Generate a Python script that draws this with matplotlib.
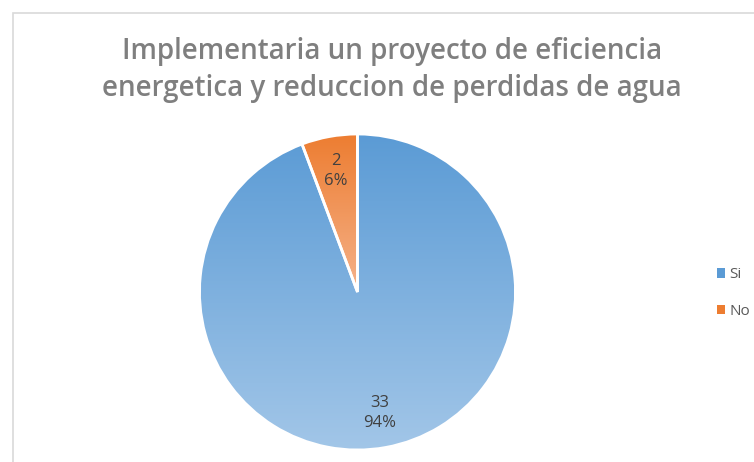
import numpy as np
import matplotlib.pyplot as plt
from matplotlib.patches import Patch, Rectangle
from matplotlib.colors import LinearSegmentedColormap

# data
categories = ['Si', 'No']
counts = [33, 2]
top_colors = ['#5B9BD5', '#ED7D31']
bottom_colors = ['#A2C6E8', '#F5B28A']
title = 'Implementaria un proyecto de eficiencia\nenergetica y reduccion de perdidas de agua'

W, H = 754, 462
plt.rcParams['font.family'] = ['Open Sans', 'DejaVu Sans']

fig = plt.figure(figsize=(W / 100, H / 100), dpi=100)
ax = fig.add_axes([0, 0, 1, 1])
ax.set_xlim(0, W)
ax.set_ylim(0, H)
ax.set_aspect('equal')
ax.axis('off')

# chart area border
fig.patches.append(Rectangle((12.5 / W, -0.1), 1.2, (H - 12.5) / H + 0.1,
                             transform=fig.transFigure, fill=False,
                             edgecolor='#d9d9d9', lw=1.2))

total = sum(counts)


def fmt(pct):
    n = int(round(pct * total / 100))
    return f'{n}\n{pct:.0f}%'


wedges, texts, autotexts = ax.pie(
    counts, center=(357.5, H - 292), radius=158, startangle=90,
    counterclock=False, autopct=fmt, pctdistance=0.78,
    wedgeprops=dict(edgecolor='white', linewidth=2),
    textprops=dict(color='#404040', fontsize=12, linespacing=1.35))

# gradient fill, top to bottom, clipped to each wedge
for w, c0, c1 in zip(wedges, top_colors, bottom_colors):
    bb = w.get_path().get_extents(w.get_patch_transform())
    cmap = LinearSegmentedColormap.from_list('g', [c0, c1])
    grad = np.linspace(0, 1, 256).reshape(-1, 1)
    im = ax.imshow(grad, cmap=cmap, aspect='auto', origin='upper',
                   extent=[bb.x0, bb.x1, bb.y0, bb.y1], zorder=1)
    im.set_clip_path(w)
    w.set_facecolor('none')
    w.set_zorder(2)
for t in autotexts:
    t.set_zorder(3)
    t.set_horizontalalignment('center')

ax.set_xlim(0, W)
ax.set_ylim(0, H)

fig.text(392 / W, 1 - 70 / H, title, ha='center', va='center',
         fontsize=20, fontweight='semibold', color='#7f7f7f',
         linespacing=1.4)

handles = [Patch(facecolor=c, edgecolor='none') for c in top_colors]
fig.legend(handles, categories, loc='center left',
           bbox_to_anchor=(703 / W, 1 - 293 / H), frameon=False,
           handlelength=0.55, handleheight=0.55, handletextpad=0.3,
           labelspacing=1.4, fontsize=11, labelcolor='#595959')

fig.savefig('out.png', dpi=100)
